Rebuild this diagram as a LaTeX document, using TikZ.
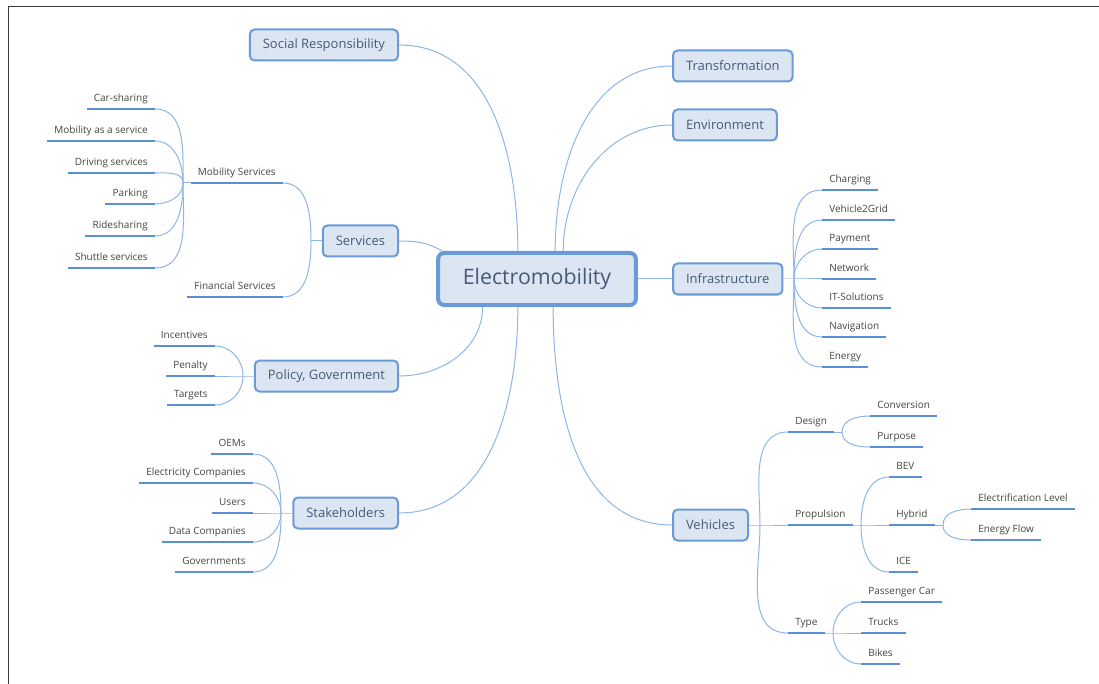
\documentclass[tikz,border=0pt]{standalone}
\usepackage{fontspec}
\setmainfont{Open Sans}
\usetikzlibrary{calc}
\definecolor{boxfill}{HTML}{DCE6F2}
\definecolor{boxline}{HTML}{6A9AD8}
\definecolor{boxtext}{HTML}{465A78}
\definecolor{linkc}{HTML}{8DB5E8}
\definecolor{ulinec}{HTML}{5A8ED6}
\definecolor{leaftext}{HTML}{444444}
\definecolor{framec}{HTML}{3A3A3A}

\begin{document}
\begin{tikzpicture}
  [x=.75pt,y=.75pt,
   topic/.style={rectangle,rounded corners=3.5pt,draw=boxline,fill=boxfill,line width=1.5pt,
                 text=boxtext,font=\fontsize{9.75}{12}\selectfont,inner xsep=9.75pt,minimum height=23.25pt},
   root/.style={topic,rounded corners=4.5pt,line width=3pt,font=\fontsize{16}{19}\selectfont,
                inner xsep=18.5pt,minimum height=39pt},
   leaf/.style={text=leaftext,font=\fontsize{7.5}{9}\selectfont,inner xsep=5.25pt,inner ysep=5.7pt,text depth=0pt},
   lleaf/.style={leaf,anchor=south east},
   rleaf/.style={leaf,anchor=south west},
   link/.style={draw=linkc,line width=.75pt},
   uline/.style={draw=ulinec,line width=1.9pt}]

  \useasboundingbox (0,0) rectangle (1099,-684);
  \draw[framec,line width=.75pt] (8,-684) -- (8,-7) -- (1099,-7);

  \node[root] (e) at (537,-279) {Electromobility};

  \node[topic,anchor=east] (soc) at (399,-45) {Social Responsibility};
  \node[topic,anchor=east] (sv) at (399,-241) {Services};
  \node[topic,anchor=east] (pol) at (399,-376) {Policy, Government};
  \node[topic,anchor=east] (stk) at (399,-513) {Stakeholders};
  \node[topic,anchor=west] (tra) at (672,-66) {Transformation};
  \node[topic,anchor=west] (env) at (672,-125) {Environment};
  \node[topic,anchor=west] (inf) at (672,-279) {Infrastructure};
  \node[topic,anchor=west] (veh) at (672,-525) {Vehicles};

  \node[lleaf] (ms) at (283,-183) {Mobility Services};
  \node[lleaf] (fs) at (283,-297) {Financial Services};
  \node[lleaf] (cs) at (155,-109) {Car-sharing};
  \node[lleaf] (maas) at (155,-141) {Mobility as a service};
  \node[lleaf] (ds) at (155,-173) {Driving services};
  \node[lleaf] (park) at (155,-204) {Parking};
  \node[lleaf] (ride) at (155,-236) {Ridesharing};
  \node[lleaf] (shut) at (155,-268) {Shuttle services};

  \node[lleaf] (inc) at (215,-346) {Incentives};
  \node[lleaf] (pen) at (215,-376) {Penalty};
  \node[lleaf] (tar) at (215,-405) {Targets};

  \node[lleaf] (oem) at (253,-454) {OEMs};
  \node[lleaf] (elc) at (253,-483) {Electricity Companies};
  \node[lleaf] (usr) at (253,-513) {Users};
  \node[lleaf] (dat) at (253,-542) {Data Companies};
  \node[lleaf] (gov) at (253,-572) {Governments};

  \node[rleaf] (chg) at (822,-190) {Charging};
  \node[rleaf] (v2g) at (822,-220) {Vehicle2Grid};
  \node[rleaf] (pay) at (822,-249) {Payment};
  \node[rleaf] (net) at (822,-279) {Network};
  \node[rleaf] (its) at (822,-308) {IT-Solutions};
  \node[rleaf] (nav) at (822,-337) {Navigation};
  \node[rleaf] (ene) at (822,-367) {Energy};

  \node[rleaf] (des) at (788,-432) {Design};
  \node[rleaf] (pro) at (788,-525) {Propulsion};
  \node[rleaf] (typ) at (788,-633) {Type};
  \node[rleaf] (con) at (870,-416) {Conversion};
  \node[rleaf] (pur) at (870,-447) {Purpose};
  \node[rleaf] (bev) at (889,-477) {BEV};
  \node[rleaf] (hyb) at (889,-525) {Hybrid};
  \node[rleaf] (ice) at (889,-572) {ICE};
  \node[rleaf] (elv) at (971,-509) {Electrification Level};
  \node[rleaf] (efl) at (971,-540) {Energy Flow};
  \node[rleaf] (pas) at (861,-602) {Passenger Car};
  \node[rleaf] (tru) at (861,-633) {Trucks};
  \node[rleaf] (bik) at (861,-664) {Bikes};

  \foreach \n in {ms,fs,cs,maas,ds,park,ride,shut,inc,pen,tar,oem,elc,usr,dat,gov,
                  chg,v2g,pay,net,its,nav,ene,des,pro,typ,con,pur,bev,hyb,ice,elv,efl,pas,tru,bik}
    \draw[uline] (\n.south west) -- (\n.south east);

  \coordinate (t0) at ($(e.north west)!.03!(e.north east)$);
  \coordinate (t1) at ($(e.north west)!.405!(e.north east)$);
  \coordinate (t2) at ($(e.north west)!.59!(e.north east)$);
  \coordinate (t3) at ($(e.north west)!.63!(e.north east)$);
  \coordinate (b1) at ($(e.south west)!.23!(e.south east)$);
  \coordinate (b2) at ($(e.south west)!.405!(e.south east)$);
  \coordinate (b3) at ($(e.south west)!.58!(e.south east)$);

  \draw[link] (soc.east) to[out=0,in=90] (t1);
  \draw[link] (sv.east) to[out=0,in=150] (t0);
  \draw[link] (pol.east) to[out=0,in=-90] (b1);
  \draw[link] (stk.east) to[out=0,in=-90] (b2);
  \draw[link] (t2) to[out=90,in=180] (tra.west);
  \draw[link] (t3) to[out=90,in=180] (env.west);
  \draw[link] (e.east) -- (inf.west);
  \draw[link] (b3) to[out=-90,in=180] (veh.west);

  \coordinate (jsv) at (311,-241);
  \coordinate (jms) at (183,-183);
  \coordinate (jpol) at (243,-376);
  \coordinate (jstk) at (281,-513);
  \coordinate (jinf) at (794,-279);
  \coordinate (jveh) at (760,-525);
  \coordinate (jdes) at (842,-432);
  \coordinate (jpro) at (861,-525);
  \coordinate (jhyb) at (943,-525);
  \coordinate (jtyp) at (833,-633);

  \draw[link] (sv.west) -- (jsv);
  \draw[link] (jsv) to[out=90,in=0] (ms.south east);
  \draw[link] (jsv) to[out=-90,in=0] (fs.south east);

  \draw[link] (ms.south west) -- (jms);
  \foreach \n in {cs,maas,ds}
    \draw[link] (jms) to[out=90,in=0] (\n.south east);
  \foreach \n in {park,ride,shut}
    \draw[link] (jms) to[out=-90,in=0] (\n.south east);

  \draw[link] (pol.west) -- (jpol) -- (pen.south east);
  \draw[link] (jpol) to[out=90,in=0] (inc.south east);
  \draw[link] (jpol) to[out=-90,in=0] (tar.south east);

  \draw[link] (stk.west) -- (jstk) -- (usr.south east);
  \foreach \n in {oem,elc}
    \draw[link] (jstk) to[out=90,in=0] (\n.south east);
  \foreach \n in {dat,gov}
    \draw[link] (jstk) to[out=-90,in=0] (\n.south east);

  \draw[link] (inf.east) -- (jinf) -- (net.south west);
  \foreach \n in {chg,v2g,pay}
    \draw[link] (jinf) to[out=90,in=180] (\n.south west);
  \foreach \n in {its,nav,ene}
    \draw[link] (jinf) to[out=-90,in=180] (\n.south west);

  \draw[link] (veh.east) -- (jveh) -- (pro.south west);
  \draw[link] (jveh) to[out=90,in=180] (des.south west);
  \draw[link] (jveh) to[out=-90,in=180] (typ.south west);

  \draw[link] (des.south east) -- (jdes);
  \draw[link] (jdes) to[out=90,in=180] (con.south west);
  \draw[link] (jdes) to[out=-90,in=180] (pur.south west);

  \draw[link] (pro.south east) -- (jpro) -- (hyb.south west);
  \draw[link] (jpro) to[out=90,in=180] (bev.south west);
  \draw[link] (jpro) to[out=-90,in=180] (ice.south west);

  \draw[link] (hyb.south east) -- (jhyb);
  \draw[link] (jhyb) to[out=90,in=180] (elv.south west);
  \draw[link] (jhyb) to[out=-90,in=180] (efl.south west);

  \draw[link] (typ.south east) -- (jtyp) -- (tru.south west);
  \draw[link] (jtyp) to[out=90,in=180] (pas.south west);
  \draw[link] (jtyp) to[out=-90,in=180] (bik.south west);
\end{tikzpicture}
\end{document}
